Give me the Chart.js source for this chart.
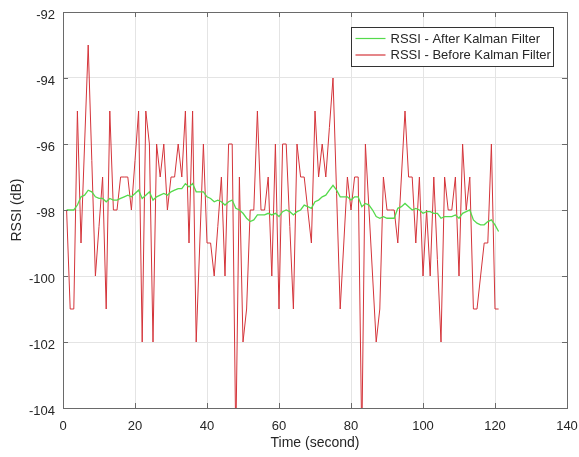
<!DOCTYPE html>
<html>
<head>
<meta charset="utf-8">
<script src="https://cdn.jsdelivr.net/npm/chart.js@4.4.1/dist/chart.umd.min.js"></script>
<style>
	html, body { margin: 0; padding: 0; background: #fff; }
	#wrap { width: 579px; height: 457px; }
</style>
</head>
<body>
<div id="wrap"><canvas id="rssiChart" width="579" height="457"></canvas></div>
<script>
// RSSI samples, one per second (t = 1..121 s)
const rssiBefore = [
	-98, -101, -101, -95, -99, -96, -93, -96.5, -100, -98.5,
	-97, -101, -95, -98, -98, -97, -97, -97, -98, -96.5,
	-95, -102, -95, -96, -102, -96, -97, -96, -98, -97,
	-97, -96, -97, -95, -99, -95, -102, -99, -96, -99,
	-99, -100, -98.5, -97, -100, -96, -96, -105, -97, -102,
	-101, -98, -98, -95, -98, -98, -97, -100, -96, -101,
	-96, -96, -98.5, -101, -96, -97, -97, -98, -99, -95,
	-97, -96, -97, -95.5, -94, -97.5, -101, -99, -97, -98,
	-97, -97, -105, -96, -98, -100, -102, -101, -97, -98,
	-98, -98, -99, -97, -95, -97, -97, -99, -97, -100,
	-98, -100, -97, -99.5, -102, -97, -98, -98, -97, -100,
	-96, -98, -97, -101, -101, -100, -99, -99, -96, -101,
	-101,
];

const rssiAfter = [
	-98.0, -98.0, -98.0, -97.85, -97.6, -97.55, -97.4, -97.45, -97.6, -97.65,
	-97.65, -97.75, -97.65, -97.7, -97.7, -97.65, -97.6, -97.55, -97.6, -97.5,
	-97.4, -97.65, -97.55, -97.45, -97.7, -97.6, -97.55, -97.5, -97.55, -97.45,
	-97.4, -97.35, -97.35, -97.2, -97.3, -97.2, -97.45, -97.45, -97.45, -97.6,
	-97.65, -97.75, -97.7, -97.75, -97.85, -97.75, -97.7, -97.95, -98.0, -98.1,
	-98.25, -98.35, -98.3, -98.15, -98.15, -98.15, -98.1, -98.15, -98.1, -98.2,
	-98.05, -98.0, -98.05, -98.15, -98.05, -98.0, -97.85, -97.9, -97.95, -97.75,
	-97.7, -97.6, -97.55, -97.4, -97.25, -97.4, -97.6, -97.6, -97.6, -97.7,
	-97.6, -97.6, -97.9, -97.8, -97.85, -98.0, -98.2, -98.25, -98.2, -98.25,
	-98.25, -98.25, -97.95, -97.9, -97.8, -97.9, -98.0, -97.95, -98.0, -98.1,
	-98.05, -98.05, -98.1, -98.1, -98.25, -98.2, -98.2, -98.2, -98.15, -98.25,
	-98.1, -98.05, -98.0, -98.3, -98.4, -98.45, -98.45, -98.35, -98.3, -98.45,
	-98.65,
];

const timeSec = rssiBefore.map((_, i) => i + 1);

const xTicks = [0, 20, 40, 60, 80, 100, 120, 140];
const yTicks = [-104, -102, -100, -98, -96, -94, -92];

const seriesLabels = ["RSSI - After Kalman Filter", "RSSI - Before Kalman Filter"];
const seriesColors = ["#55da4c", "#d4343a"];

const textColor = "#262626";
const frameColor = "#6a6a6a";
const gridColor = "#e4e4e4";
const fontFamily = "'Liberation Sans', Arial, Helvetica, sans-serif";

// рамка, внутренние засечки и легенда в стиле MATLAB
const matlabFrame = {
	id: "matlabFrame",
	afterDatasetsDraw(chart) {
		const { ctx, chartArea: a, scales } = chart;
		const x = scales.x;
		const y = scales.y;
		ctx.save();
		ctx.strokeStyle = frameColor;
		ctx.lineWidth = 1;
		ctx.beginPath();
		xTicks.forEach((v) => {
			const px = Math.round(x.getPixelForValue(v)) + 0.5;
			ctx.moveTo(px, a.bottom);
			ctx.lineTo(px, a.bottom - 5);
			ctx.moveTo(px, a.top);
			ctx.lineTo(px, a.top + 5);
		});
		yTicks.forEach((v) => {
			const py = Math.round(y.getPixelForValue(v)) + 0.5;
			ctx.moveTo(a.left, py);
			ctx.lineTo(a.left + 5, py);
			ctx.moveTo(a.right, py);
			ctx.lineTo(a.right - 5, py);
		});
		ctx.stroke();
		ctx.strokeRect(Math.round(a.left) + 0.5, Math.round(a.top) + 0.5, Math.round(a.width), Math.round(a.height));

		// legend box
		const boxW = 202;
		const boxH = 39;
		const bx = Math.round(a.right - 14 - boxW) + 0.5;
		const by = Math.round(a.top + 15) + 0.5;
		ctx.fillStyle = "#fff";
		ctx.fillRect(bx, by, boxW, boxH);
		ctx.strokeStyle = "#333";
		ctx.strokeRect(bx, by, boxW, boxH);
		ctx.font = "13px " + fontFamily;
		ctx.textBaseline = "middle";
		ctx.textAlign = "left";
		seriesLabels.forEach((label, i) => {
			const ly = by + 11 + i * 16.5;
			ctx.strokeStyle = seriesColors[i];
			ctx.lineWidth = 1.2;
			ctx.beginPath();
			ctx.moveTo(bx + 4, ly);
			ctx.lineTo(bx + 34, ly);
			ctx.stroke();
			ctx.fillStyle = textColor;
			ctx.fillText(label, bx + 39, ly + 0.5);
		});
		ctx.restore();
	},
};

const data = {
	datasets: [
		{
			label: seriesLabels[0],
			data: timeSec.map((t, i) => ({ x: t, y: rssiAfter[i] })),
			borderColor: seriesColors[0],
			borderWidth: 1.3,
			pointRadius: 0,
			tension: 0,
		},
		{
			label: seriesLabels[1],
			data: timeSec.map((t, i) => ({ x: t, y: rssiBefore[i] })),
			borderColor: seriesColors[1],
			borderWidth: 1,
			pointRadius: 0,
			tension: 0,
		},
	],
};

const config = {
	type: "line",
	data: data,
	options: {
		responsive: false,
		animation: false,
		devicePixelRatio: 1,
		layout: {
			padding: { top: 12, right: 12, left: 0, bottom: 0 },
		},
		plugins: {
			legend: { display: false },
			tooltip: { enabled: false },
		},
		scales: {
			x: {
				type: "linear",
				min: 0,
				max: 140,
				afterFit: (scale) => {
					scale.height = 49;
					scale.paddingLeft = 0;
					scale.paddingRight = 0;
				},
				afterBuildTicks: (scale) => {
					scale.ticks = xTicks.map((v) => ({ value: v }));
				},
				grid: { color: gridColor, drawTicks: false },
				border: { display: false },
				ticks: {
					padding: 11,
					color: textColor,
					font: { family: fontFamily, size: 13 },
					maxRotation: 0,
				},
				title: {
					display: true,
					text: "Time (second)",
					color: textColor,
					font: { family: fontFamily, size: 14 },
					padding: { top: 0, bottom: 5 },
				},
			},
			y: {
				type: "linear",
				min: -104,
				max: -92,
				afterFit: (scale) => {
					scale.width = 63;
					scale.paddingTop = 0;
					scale.paddingBottom = 0;
				},
				afterBuildTicks: (scale) => {
					scale.ticks = yTicks.map((v) => ({ value: v }));
				},
				grid: { color: gridColor, drawTicks: false },
				border: { display: false },
				ticks: {
					padding: 8,
					labelOffset: 3,
					color: textColor,
					font: { family: fontFamily, size: 13 },
				},
				title: {
					display: true,
					text: "RSSI (dB)",
					color: textColor,
					font: { family: fontFamily, size: 14 },
					padding: { top: 9, bottom: 0 },
				},
			},
		},
	},
	plugins: [matlabFrame],
};

const rssiChart = new Chart(document.getElementById("rssiChart"), config);
</script>
</body>
</html>
